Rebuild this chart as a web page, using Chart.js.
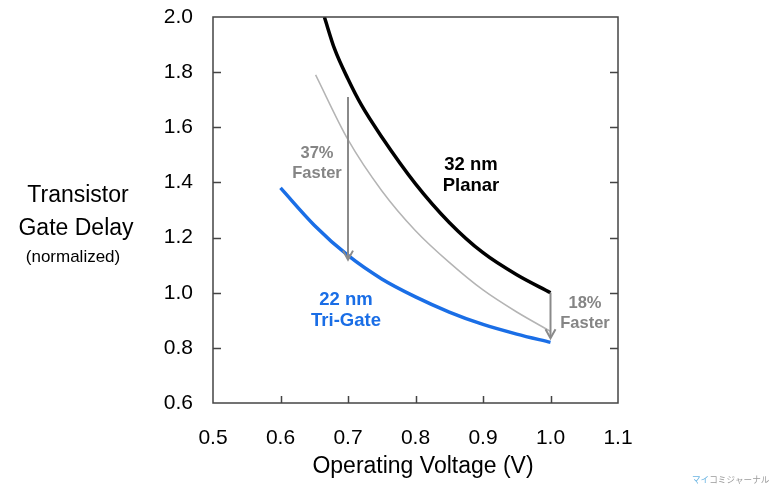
<!DOCTYPE html>
<html>
<head>
<meta charset="utf-8">
<script src="https://cdn.jsdelivr.net/npm/chart.js@4.4.1/dist/chart.umd.min.js"></script>
<style>
html,body{margin:0;padding:0;background:#fff;}
canvas{display:block;}
</style>
</head>
<body>
<canvas id="c" width="774" height="489"></canvas>
<script>
// ---- data ----
const planarV     = [0.665, 0.68, 0.70, 0.72, 0.75, 0.80, 0.85, 0.90, 0.95, 1.00];
const planarDelay = [2.00, 1.885, 1.775, 1.68, 1.565, 1.395, 1.255, 1.145, 1.065, 1.00];

const grayV       = [0.652, 0.70, 0.75, 0.80, 0.85, 0.90, 0.95, 1.00];
const grayDelay   = [1.79, 1.555, 1.37, 1.225, 1.11, 1.01, 0.93, 0.86];

const triGateV     = [0.60, 0.65, 0.70, 0.75, 0.80, 0.85, 0.90, 0.95, 1.00];
const triGateDelay = [1.38, 1.245, 1.135, 1.05, 0.985, 0.93, 0.885, 0.85, 0.82];

// arrows: [voltage, from delay, to delay]
const arrowLowV  = [0.70, 1.71, 1.12];
const arrowHighV = [1.00, 1.00, 0.835];

const xTickMin = 0.5, xTickMax = 1.1, xStep = 0.1;
const yTickMin = 0.6, yTickMax = 2.0, yStep = 0.2;

const labels = {
  planar: ['32 nm', 'Planar'],
  trigate: ['22 nm', 'Tri-Gate'],
  faster37: ['37%', 'Faster'],
  faster18: ['18%', 'Faster'],
  yTitle: ['Transistor', 'Gate Delay', '(normalized)'],
  xTitle: 'Operating Voltage (V)',
  watermark1: 'マイ',
  watermark2: 'コミジャーナル'
};

const toPts = (xs, ys) => xs.map((x, i) => ({x: x, y: ys[i]}));

const FONT = 'Arial, "Liberation Sans", sans-serif';
const AXIS_COLOR = '#444';
const GRAY_TEXT = '#858585';
const BLUE = '#1a6ee6';

const decor = {
  id: 'decor',
  afterDatasetsDraw(chart) {
    const ctx = chart.ctx;
    const xs = chart.scales.x, ys = chart.scales.y;
    const a = chart.chartArea;
    ctx.save();
    // frame
    ctx.strokeStyle = AXIS_COLOR;
    ctx.lineWidth = 1.5;
    ctx.strokeRect(a.left, a.top, a.right - a.left, a.bottom - a.top);
    // inward ticks
    ctx.beginPath();
    ys.ticks.forEach(t => {
      if (t.value <= yTickMin + 1e-6 || t.value >= yTickMax - 1e-6) return;
      const py = Math.round(ys.getPixelForValue(t.value)) + 0.5;
      ctx.moveTo(a.left, py); ctx.lineTo(a.left + 8, py);
      ctx.moveTo(a.right, py); ctx.lineTo(a.right - 8, py);
    });
    xs.ticks.forEach(t => {
      if (t.value <= xTickMin + 1e-6 || t.value >= xTickMax - 1e-6) return;
      const px = Math.round(xs.getPixelForValue(t.value)) + 0.5;
      ctx.moveTo(px, a.bottom); ctx.lineTo(px, a.bottom - 7);
    });
    ctx.stroke();

    // arrows
    const drawArrow = (arr) => {
      const px = xs.getPixelForValue(arr[0]);
      const y1 = ys.getPixelForValue(arr[1]);
      const y2 = ys.getPixelForValue(arr[2]);
      ctx.strokeStyle = '#8a8a8a';
      ctx.lineWidth = 2;
      ctx.beginPath();
      ctx.moveTo(px, y1); ctx.lineTo(px, y2 - 1);
      ctx.stroke();
      ctx.beginPath();
      ctx.moveTo(px - 5, y2 - 9); ctx.lineTo(px, y2); ctx.lineTo(px + 5, y2 - 9);
      ctx.stroke();
    };
    drawArrow(arrowLowV);
    drawArrow(arrowHighV);

    // annotation text
    const txt = (lines, cx, baselines, color, font) => {
      ctx.fillStyle = color;
      ctx.font = font;
      ctx.textAlign = 'center';
      ctx.textBaseline = 'alphabetic';
      lines.forEach((l, i) => ctx.fillText(l, cx, baselines[i]));
    };
    txt(labels.planar, 471, [170, 191], '#000', 'bold 18.5px ' + FONT);
    txt(labels.trigate, 346, [305, 326], BLUE, 'bold 18.5px ' + FONT);
    txt(labels.faster37, 317, [158, 178], GRAY_TEXT, 'bold 16.5px ' + FONT);
    txt(labels.faster18, 585, [308, 328], GRAY_TEXT, 'bold 16.5px ' + FONT);

    // axis titles
    txt([labels.yTitle[0]], 78, [202], '#000', '23px ' + FONT);
    txt([labels.yTitle[1]], 76, [235], '#000', '23px ' + FONT);
    txt([labels.yTitle[2]], 73, [262], '#000', '17px ' + FONT);
    txt([labels.xTitle], 423, [473], '#000', '23px ' + FONT);

    // watermark
    ctx.font = '8.6px "Noto Sans CJK JP", sans-serif';
    ctx.textAlign = 'left';
    ctx.fillStyle = '#6ab4e2';
    ctx.fillText(labels.watermark1, 692, 483);
    const w = ctx.measureText(labels.watermark1).width;
    ctx.fillStyle = '#9a9a9a';
    ctx.fillText(labels.watermark2, 692 + w, 483);
    ctx.restore();
  }
};

new Chart(document.getElementById('c'), {
  type: 'line',
  data: {
    datasets: [
      { data: toPts(grayV, grayDelay), borderColor: '#b4b4b4', borderWidth: 1.5, cubicInterpolationMode: 'monotone', pointRadius: 0, fill: false },
      { data: toPts(planarV, planarDelay), borderColor: '#000', borderWidth: 3.5, cubicInterpolationMode: 'monotone', pointRadius: 0, fill: false },
      { data: toPts(triGateV, triGateDelay), borderColor: BLUE, borderWidth: 3.5, cubicInterpolationMode: 'monotone', pointRadius: 0, fill: false }
    ]
  },
  options: {
    responsive: false,
    animation: false,
    devicePixelRatio: 1,
    layout: { padding: { top: 17, right: 156, left: 0, bottom: 0 } },
    plugins: { legend: { display: false }, tooltip: { enabled: false } },
    scales: {
      x: {
        type: 'linear', min: xTickMin, max: xTickMax,
        grid: { display: false, drawTicks: false },
        border: { display: false },
        ticks: { stepSize: xStep, color: '#000', font: { size: 21, family: FONT }, padding: 23,
                 callback: v => v.toFixed(1) },
        afterFit: s => { s.height = 86; s.paddingLeft = 0; s.paddingRight = 0; }
      },
      y: {
        type: 'linear', min: yTickMin, max: yTickMax,
        grid: { display: false, drawTicks: false },
        border: { display: false },
        ticks: { stepSize: yStep, color: '#000', font: { size: 21, family: FONT }, padding: 20,
                 callback: v => v.toFixed(1) },
        afterFit: s => { s.width = 213; s.paddingTop = 0; s.paddingBottom = 0; }
      }
    }
  },
  plugins: [decor]
});
</script>
</body>
</html>
